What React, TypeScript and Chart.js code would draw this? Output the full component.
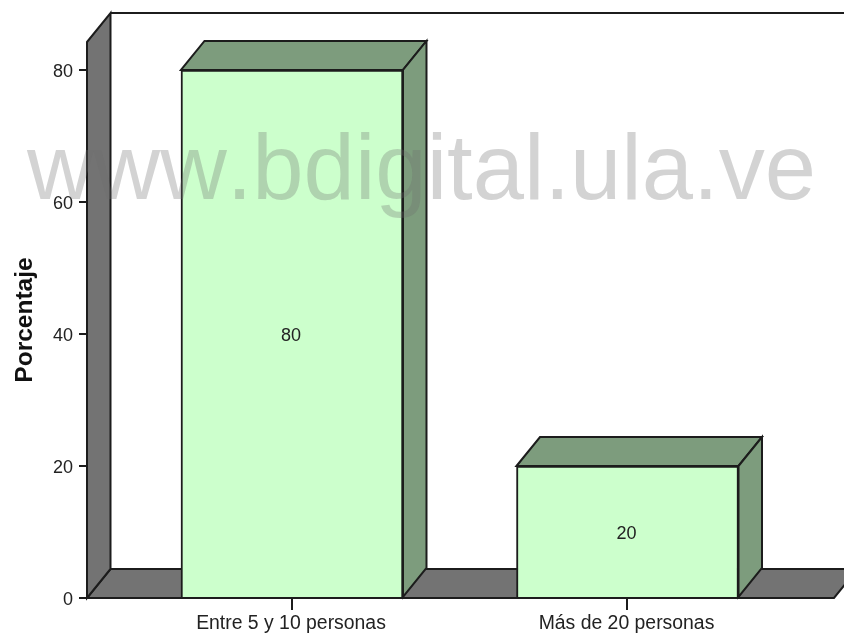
import React, { useEffect, useRef } from "react";
import { Chart, registerables } from "chart.js";

Chart.register(...registerables);

const categories = ["Entre 5 y 10 personas", "Más de 20 personas"];
const percentages = [80, 20];
const yTickStep = 20;
const yAxisTitle = "Porcentaje";
const watermark = "www.bdigital.ula.ve";

const DEPTH_X = 23.5;
const DEPTH_Y = 29;
const LINE = "#1c1c1c";
const WALL = "#737373";
const SIDE = "#7d9c7d";
const FONT = "'Liberation Sans', Arial, sans-serif";

function poly(ctx: CanvasRenderingContext2D, pts: number[][], fill: string) {
  ctx.beginPath();
  pts.forEach((p, i) => (i ? ctx.lineTo(p[0], p[1]) : ctx.moveTo(p[0], p[1])));
  ctx.closePath();
  ctx.fillStyle = fill;
  ctx.fill();
  ctx.lineWidth = 2;
  ctx.lineJoin = "miter";
  ctx.strokeStyle = LINE;
  ctx.stroke();
}

const depthPlugin = {
  id: "depth",
  beforeDatasetsDraw(chart: any) {
    const { ctx, chartArea: a } = chart;
    const { left: l, right: r, top: t, bottom: b } = a;
    ctx.save();
    // back wall outline
    ctx.beginPath();
    ctx.moveTo(l + DEPTH_X, t - DEPTH_Y);
    ctx.lineTo(844, t - DEPTH_Y);
    ctx.lineWidth = 2;
    ctx.strokeStyle = LINE;
    ctx.stroke();
    // floor
    poly(ctx, [[l, b], [l + DEPTH_X, b - DEPTH_Y], [r + DEPTH_X, b - DEPTH_Y], [r, b]], WALL);
    // left wall
    poly(ctx, [[l, t], [l + DEPTH_X, t - DEPTH_Y], [l + DEPTH_X, b - DEPTH_Y], [l, b]], WALL);
    ctx.restore();
  },
  afterDatasetsDraw(chart: any) {
    const { ctx, chartArea: a } = chart;
    const meta = chart.getDatasetMeta(0);
    ctx.save();
    meta.data.forEach((bar: any, i: number) => {
      const hw = bar.width / 2;
      const x0 = bar.x - hw;
      const x1 = bar.x + hw;
      const top = bar.y;
      const base = bar.base;
      poly(ctx, [[x0, top], [x0 + DEPTH_X, top - DEPTH_Y], [x1 + DEPTH_X, top - DEPTH_Y], [x1, top]], SIDE);
      poly(ctx, [[x1, top], [x1 + DEPTH_X, top - DEPTH_Y], [x1 + DEPTH_X, base - DEPTH_Y], [x1, base]], SIDE);
      ctx.fillStyle = "#222";
      ctx.font = `18px ${FONT}`;
      ctx.textAlign = "center";
      ctx.textBaseline = "middle";
      ctx.fillText(String(percentages[i]), bar.x - 1, (top + base) / 2 + 3);
    });
    // baseline
    ctx.beginPath();
    ctx.moveTo(a.left, a.bottom);
    ctx.lineTo(a.right, a.bottom);
    ctx.lineWidth = 2;
    ctx.strokeStyle = LINE;
    ctx.stroke();
    // watermark
    ctx.font = `92.2px ${FONT}`;
    (ctx as any).fontKerning = "none";
    ctx.textAlign = "left";
    ctx.textBaseline = "alphabetic";
    ctx.fillStyle = "rgba(110,110,110,0.3)";
    ctx.fillText(watermark, 27, 199);
    ctx.restore();
  },
};

export default function App() {
  const ref = useRef<HTMLCanvasElement>(null);
  useEffect(() => {
    const chart = new Chart(ref.current!, {
      type: "bar",
      data: {
        datasets: [
          {
            data: percentages.map((v, i) => ({ x: i, y: v })),
            backgroundColor: "#ccffcc",
            borderColor: LINE,
            borderWidth: 2,
            barThickness: 222,
          },
        ],
      },
      plugins: [depthPlugin],
      options: {
        responsive: false,
        animation: false,
        layout: { padding: { top: 42, right: 10, left: 0, bottom: 0 } },
        plugins: { legend: { display: false }, tooltip: { enabled: false }, title: { display: false } },
        scales: {
          x: {
            type: "linear",
            offset: false,
            min: -0.611,
            max: 1.6155,
            afterFit(scale: any) {
              scale.height = 35;
            },
            afterBuildTicks(scale: any) {
              scale.ticks = categories.map((_, i) => ({ value: i }));
            },
            grid: { offset: false, drawOnChartArea: false, color: LINE, lineWidth: 2, tickLength: 12, tickColor: LINE },
            border: { display: false },
            ticks: {
              autoSkip: false,
              maxRotation: 0,
              padding: 2,
              labelOffset: -1,
              color: "#222",
              font: { family: FONT, size: 19.4 },
              callback: (v: any) => categories[v as number],
            },
          },
          y: {
            min: 0,
            max: 84.24,
            afterFit(scale: any) {
              scale.width = 87;
            },
            afterBuildTicks(scale: any) {
              const t = [];
              for (let v = 0; v <= 80; v += yTickStep) t.push({ value: v });
              scale.ticks = t;
            },
            grid: { drawOnChartArea: false, color: LINE, lineWidth: 2, tickLength: 8, tickColor: LINE },
            border: { display: false },
            ticks: { padding: 6, labelOffset: 2, color: "#222", font: { family: FONT, size: 18 } },
            title: {
              display: true,
              text: yAxisTitle,
              color: "#111",
              font: { family: FONT, size: 24.5, weight: "bold" },
              padding: { top: 10.5, bottom: 0 },
            },
          },
        },
      },
    } as any);
    return () => chart.destroy();
  }, []);
  return (
    <div style={{ position: "absolute", left: 0, top: 0, width: 844, height: 633, overflow: "hidden", background: "#fff" }}>
      <canvas ref={ref} width={844} height={633} style={{ display: "block" }} />
    </div>
  );
}
